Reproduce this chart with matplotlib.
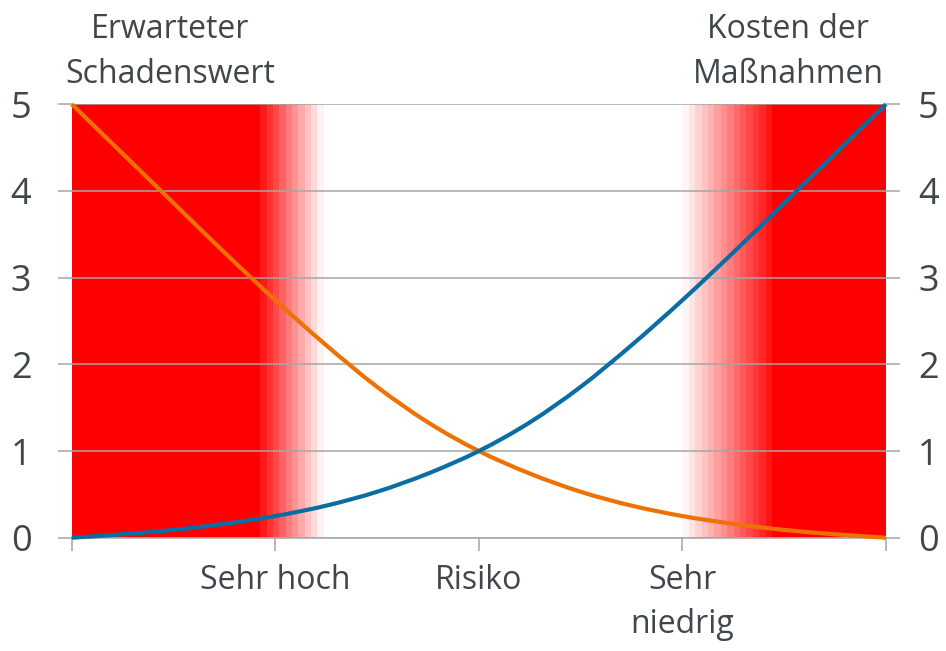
import numpy as np
import matplotlib
matplotlib.use("Agg")
import matplotlib.pyplot as plt
from matplotlib.path import Path
from matplotlib.patches import PathPatch

plt.rcParams['font.family'] = ['Open Sans', 'DejaVu Sans']

# Values (x runs 0..4)
x = [0, 0.25, 0.5, 0.75, 1.0, 1.25, 1.5, 1.75, 2.0,
     2.25, 2.5, 2.75, 3.0, 3.25, 3.5, 3.75, 4.0]
kosten = [0, 0.04, 0.09, 0.16, 0.25, 0.37, 0.53, 0.74, 1.0,
          1.33, 1.74, 2.22, 2.74, 3.29, 3.86, 4.43, 5.0]
schaden = [5.0, 4.43, 3.86, 3.29, 2.74, 2.22, 1.74, 1.33, 1.0,
           0.74, 0.53, 0.37, 0.25, 0.16, 0.09, 0.04, 0]

cat_pos = [1, 2, 3]
cat_labels = ['Sehr hoch', 'Risiko', 'Sehr\nniedrig']
y_ticks = [0, 1, 2, 3, 4, 5]

# red zones: solid part + faded steps
left_solid = (0, 0.927)
left_fade = (0.927, 1.238, 10)
right_fade = (3.0, 3.44, 14)
right_solid = (3.44, 4)

text_col = '#40464a'
grid_col = '#a6a6a6'
orange = '#ee7203'
blue = '#0a6ea4'


def smooth_path(xs, ys):
    # smoothed line like the spreadsheet's, drawn as cubic bezier segments
    p = np.column_stack([xs, ys]).astype(float)
    pts = [p[0]]
    codes = [Path.MOVETO]
    n = len(p)
    for i in range(n - 1):
        p0 = p[max(i - 1, 0)]
        p1 = p[i]
        p2 = p[i + 1]
        p3 = p[min(i + 2, n - 1)]
        pts += [p1 + (p2 - p0) / 6, p2 - (p3 - p1) / 6, p2]
        codes += [Path.CURVE4] * 3
    return Path(pts, codes)


fig = plt.figure(figsize=(9.46, 6.51), dpi=100)
ax = fig.add_axes([0.0758, 0.174, 0.8608, 0.666])

# background zones
ax.axvspan(*left_solid, color='#ff0000', lw=0, zorder=0.2)
ax.axvspan(*right_solid, color='#ff0000', lw=0, zorder=0.2)
edges = np.linspace(left_fade[0], left_fade[1], left_fade[2] + 1)
alphas = np.linspace(0.9, 0.05, left_fade[2])
for i in range(left_fade[2]):
    ax.axvspan(edges[i], edges[i + 1], color='#ff0000', alpha=alphas[i], lw=0, zorder=0.2)
edges = np.linspace(right_fade[0], right_fade[1], right_fade[2] + 1)
alphas = np.linspace(0.04, 0.92, right_fade[2])
for i in range(right_fade[2]):
    ax.axvspan(edges[i], edges[i + 1], color='#ff0000', alpha=alphas[i], lw=0, zorder=0.2)

ax.add_patch(PathPatch(smooth_path(x, schaden), fill=False, edgecolor=orange, lw=3,
                       clip_on=False, zorder=3, capstyle='butt'))
ax.add_patch(PathPatch(smooth_path(x, kosten), fill=False, edgecolor=blue, lw=3,
                       clip_on=False, zorder=4, capstyle='butt'))

ax.set_xlim(0, 4)
ax.set_ylim(0, 5)

ax.set_yticks(y_ticks)
ax.yaxis.grid(True, color=grid_col, lw=1.1, zorder=0.5)
ax.tick_params(axis='y', length=10, width=1.1, color=grid_col, pad=19,
               labelsize=26, labelcolor=text_col)

ax2 = ax.twinx()
ax2.set_ylim(0, 5)
ax2.set_yticks(y_ticks)
ax2.tick_params(axis='y', length=10, width=1.1, color=grid_col, pad=13,
                labelsize=26, labelcolor=text_col)

ax.set_xticks([0] + cat_pos + [4])
ax.set_xticklabels([''] + cat_labels + [''], linespacing=1.45)
ax.tick_params(axis='x', length=9, width=1.1, color=grid_col, pad=10, labelsize=23, labelcolor=text_col)

for a in (ax, ax2):
    for s in ['left', 'right', 'top']:
        a.spines[s].set_visible(False)
ax2.spines['bottom'].set_visible(False)
ax.spines['bottom'].set_color(grid_col)
ax.spines['bottom'].set_linewidth(1.1)

# top annotations
fig.text(170 / 946, 1 - 38 / 651, 'Erwarteter', ha='center', va='baseline', fontsize=23, color=text_col)
fig.text(170 / 946, 1 - 83 / 651, 'Schadenswert', ha='center', va='baseline', fontsize=23, color=text_col)
fig.text(788 / 946, 1 - 38 / 651, 'Kosten der', ha='center', va='baseline', fontsize=23, color=text_col)
fig.text(788 / 946, 1 - 83 / 651, 'Maßnahmen', ha='center', va='baseline', fontsize=23, color=text_col)

fig.savefig('out.png', dpi=100)
